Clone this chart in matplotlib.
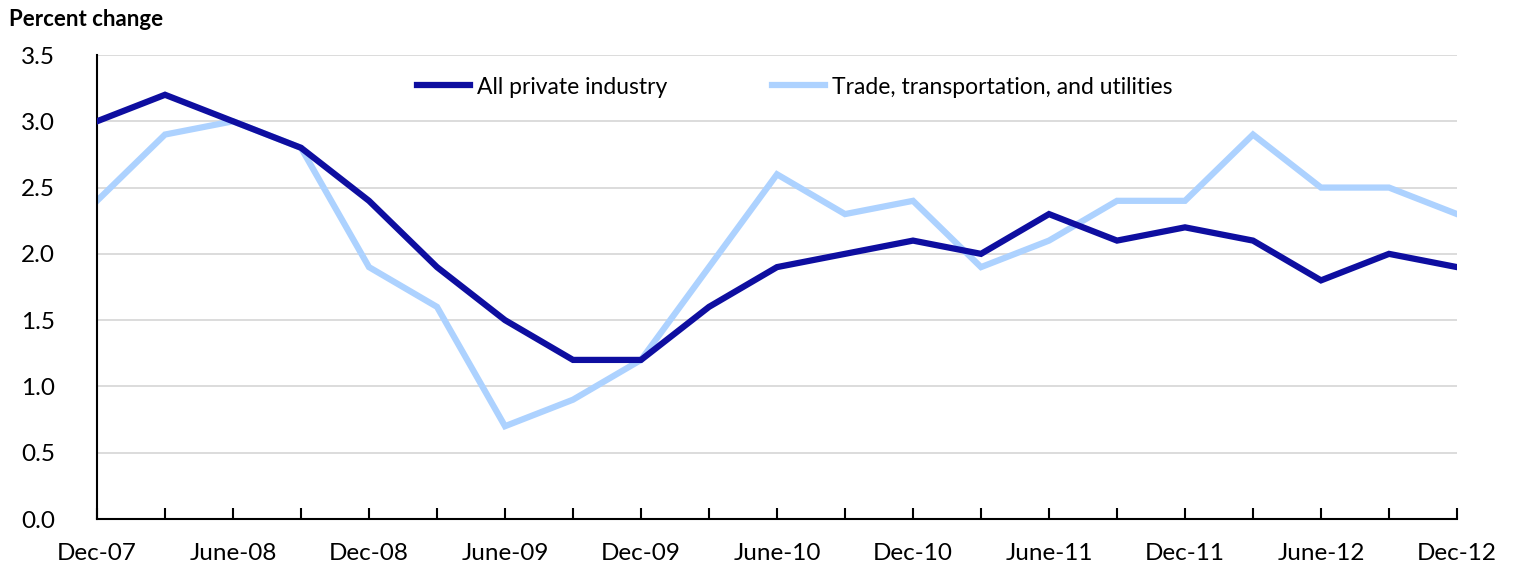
import numpy as np
import matplotlib
matplotlib.use("Agg")
import matplotlib.pyplot as plt
from matplotlib.ticker import MultipleLocator, FixedLocator

plt.rcParams["font.family"] = ["Lato", "DejaVu Sans"]

# quarterly periods, Dec-07 .. Dec-12
quarters = ["Dec-07", "Mar-08", "June-08", "Sep-08", "Dec-08", "Mar-09", "June-09",
            "Sep-09", "Dec-09", "Mar-10", "June-10", "Sep-10", "Dec-10", "Mar-11",
            "June-11", "Sep-11", "Dec-11", "Mar-12", "June-12", "Sep-12", "Dec-12"]
all_private = [3.0, 3.2, 3.0, 2.8, 2.4, 1.9, 1.5, 1.2, 1.2, 1.6, 1.9, 2.0, 2.1, 2.0,
               2.3, 2.1, 2.2, 2.1, 1.8, 2.0, 1.9]
trade_transport = [2.4, 2.9, 3.0, 2.8, 1.9, 1.6, 0.7, 0.9, 1.2, 1.9, 2.6, 2.3, 2.4, 1.9,
                   2.1, 2.4, 2.4, 2.9, 2.5, 2.5, 2.3]

dark = "#0E0EA0"
light = "#ADD2FF"

fig = plt.figure(figsize=(15.17, 5.68), dpi=100)
ax = fig.add_axes([97 / 1517, 1 - 519 / 568, (1457 - 97) / 1517, (519 - 55) / 568])

x = np.arange(len(quarters))
ax.plot(x, all_private, color=dark, lw=4.5, label="All private industry",
        solid_joinstyle="miter", zorder=3)
ax.plot(x, trade_transport, color=light, lw=4.5, label="Trade, transportation, and utilities",
        solid_joinstyle="miter", zorder=2)

ax.set_xlim(0, len(quarters) - 1)
ax.set_ylim(0, 3.5)
ax.yaxis.set_major_locator(MultipleLocator(0.5))
ax.yaxis.set_major_formatter(matplotlib.ticker.FormatStrFormatter("%.1f"))
ax.grid(axis="y", color="#D9D9D9", lw=1.3)
ax.set_axisbelow(True)

ax.xaxis.set_major_locator(FixedLocator(x))
ax.set_xticklabels([q if i % 2 == 0 else "" for i, q in enumerate(quarters)])
ax.tick_params(axis="x", direction="in", length=8, width=1.5, pad=17, labelsize=17.5)
ax.tick_params(axis="y", length=0, pad=30, labelsize=17.5)

for s in ("top", "right"):
    ax.spines[s].set_visible(False)
for s in ("left", "bottom"):
    ax.spines[s].set_linewidth(1.5)
    ax.spines[s].set_color("black")

fig.text(9 / 1517, 1 - 20 / 568, "Percent change", fontsize=16, fontweight="bold",
         va="center", ha="left")

ax.legend(loc="center left", bbox_to_anchor=((408 - 97) / 1360, 1 - (87 - 55) / 464),
          ncol=2, frameon=False, fontsize=16.5, handlelength=2.3, handletextpad=0.3,
          columnspacing=4.6, borderaxespad=0)

fig.savefig("out.png", dpi=100)
